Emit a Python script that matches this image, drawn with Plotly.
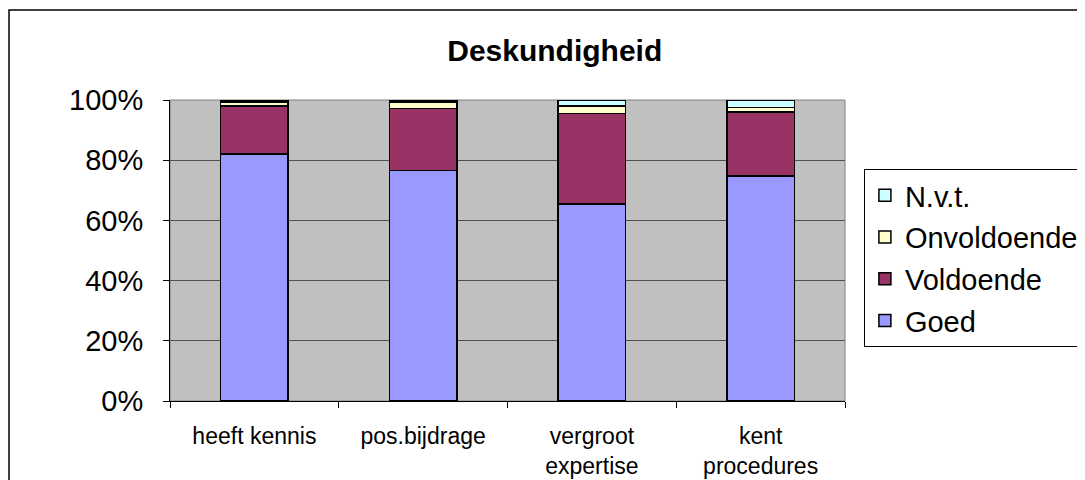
import plotly.graph_objects as go

# categories (x axis)
categories = ["heeft kennis", "pos.bijdrage", "vergroot<br>expertise", "kent<br>procedures"]

# percentages per answer
goed = [82.0, 76.5, 65.5, 74.7]
voldoende = [16.0, 20.7, 30.0, 21.3]
onvoldoende = [1.3, 2.1, 2.5, 1.5]
nvt = [0.7, 0.7, 2.0, 2.5]

series = [
    ("Goed", goed, "#9999FF", 4),
    ("Voldoende", voldoende, "#993366", 3),
    ("Onvoldoende", onvoldoende, "#FFFFCC", 2),
    ("N.v.t.", nvt, "#CCFFFF", 1),
]

fig = go.Figure()
for name, vals, col, rank in series:
    fig.add_trace(go.Bar(
        x=categories, y=vals, name=name, legendgroup=name, legendrank=rank,
        marker=dict(color=col, line=dict(color="black", width=1.5)),
        width=0.4,
    ))

# outer chart frame
fig.add_shape(type="rect", xref="paper", yref="paper",
              x0=-0.2385, x1=1.4, y0=-0.4, y1=1.299,
              line=dict(color="black", width=1.5), fillcolor="rgba(0,0,0,0)", layer="below")

# page adds 8px body margin, so size/margins are trimmed by 8
fig.update_layout(
    barmode="stack",
    width=1077, height=472,
    margin=dict(l=162, r=240, t=92, b=79, autoexpand=False),
    paper_bgcolor="white",
    plot_bgcolor="#C0C0C0",
    font=dict(family="Liberation Sans, Arial, sans-serif", color="black"),
    title=dict(text="<b>Deskundigheid</b>", x=0.57, xref="paper", xanchor="center",
               y=0.911, yanchor="middle", font=dict(size=30)),
    showlegend=True,
    legend=dict(
        x=1.028, xanchor="left", y=0.771, yanchor="top",
        traceorder="grouped", tracegroupgap=1,
        font=dict(size=29),
        bordercolor="black", borderwidth=1, bgcolor="white",
        itemwidth=30,
    ),
)

fig.update_xaxes(
    showgrid=False, tickson="boundaries", ticks="outside", ticklen=6,
    tickcolor="black", showline=True, linecolor="black", linewidth=1,
    tickfont=dict(size=23), ticklabelstandoff=14, automargin=False,
)
fig.update_yaxes(
    range=[0, 100], dtick=20, ticksuffix="%",
    showgrid=True, gridcolor="#505050", gridwidth=1,
    ticks="outside", ticklen=6, tickcolor="black",
    showline=True, linecolor="black", linewidth=1,
    tickfont=dict(size=29), zeroline=False, ticklabelstandoff=14, automargin=False,
)
# grey right/top border of the plot area
fig.add_shape(type="rect", xref="paper", yref="paper", x0=0, x1=1, y0=0, y1=1,
              line=dict(color="#808080", width=1), fillcolor="rgba(0,0,0,0)", layer="below")

fig.write_html("out.html")
